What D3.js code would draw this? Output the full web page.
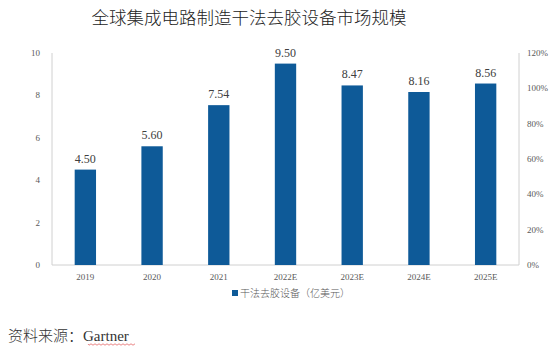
<!DOCTYPE html>
<html><head><meta charset="utf-8">
<script src="https://cdn.jsdelivr.net/npm/d3@7"></script>
<style>body{margin:0;background:#fff;}svg{display:block;}</style>
</head><body>
<script>
const title = "全球集成电路制造干法去胶设备市场规模";
const categories = ["2019","2020","2021","2022E","2023E","2024E","2025E"];
const values = [4.50,5.60,7.54,9.50,8.47,8.16,8.56];
const leftTicks = [0,2,4,6,8,10];
const rightTicks = [0,0.2,0.4,0.6,0.8,1.0,1.2];
const seriesName = "干法去胶设备（亿美元）";
const sourceLabel = "资料来源：";
const sourceName = "Gartner";

const W=554,H=348;
const svg=d3.select("body").append("svg").attr("width",W).attr("height",H);
const pL=52,pR=519,pT=53,pB=265;
const x=d3.scaleBand().domain(categories).range([pL,pR]).paddingInner(0.68).paddingOuter(0.34);
const y=d3.scaleLinear().domain([0,10]).range([pB,pT]);
const y2=d3.scaleLinear().domain([0,1.2]).range([pB,pT]);
const serif="'Liberation Serif','Times New Roman',serif";
const cjk="'Noto Sans CJK SC','Noto Sans',sans-serif";

svg.append("text").attr("x",249).attr("y",24).attr("text-anchor","middle")
  .attr("font-family",cjk).attr("font-weight",300).attr("font-size",17.5).attr("fill","#222").text(title);

const axisColor="#d0d0d0";
svg.append("line").attr("x1",pL).attr("x2",pL).attr("y1",pT).attr("y2",pB).attr("stroke",axisColor);
svg.append("line").attr("x1",pR).attr("x2",pR).attr("y1",pT).attr("y2",pB).attr("stroke",axisColor);
svg.append("line").attr("x1",pL).attr("x2",pR).attr("y1",pB).attr("y2",pB).attr("stroke",axisColor);

svg.append("g").selectAll("text").data(leftTicks).join("text")
  .attr("x",40).attr("y",d=>y(d)+3).attr("text-anchor","end")
  .attr("font-family",serif).attr("font-size",9).attr("fill","#595959").text(d=>d);
svg.append("g").selectAll("text").data(rightTicks).join("text")
  .attr("x",527).attr("y",d=>y2(d)+3).attr("text-anchor","start")
  .attr("font-family",serif).attr("font-size",9).attr("fill","#595959").text(d=>d3.format(".0%")(d));

svg.append("g").selectAll("text").data(categories).join("text")
  .attr("x",d=>x(d)+x.bandwidth()/2).attr("y",280).attr("text-anchor","middle")
  .attr("font-family",serif).attr("font-size",9).attr("fill","#595959").text(d=>d);

const color="#0e5a98";
svg.append("g").selectAll("rect").data(values).join("rect")
  .attr("x",(d,i)=>x(categories[i])).attr("width",x.bandwidth())
  .attr("y",d=>y(d)).attr("height",d=>pB-y(d)).attr("fill",color);
svg.append("g").selectAll("text").data(values).join("text")
  .attr("x",(d,i)=>x(categories[i])+x.bandwidth()/2).attr("y",d=>y(d)-7).attr("text-anchor","middle")
  .attr("font-family",serif).attr("font-size",12).attr("fill","#404040").text(d=>d.toFixed(2));

svg.append("rect").attr("x",232).attr("y",290).attr("width",6).attr("height",6).attr("fill",color);
svg.append("text").attr("x",240).attr("y",297).attr("font-family",cjk).attr("font-weight",300).attr("font-size",10).attr("fill","#595959").text(seriesName);

const src=svg.append("text").attr("x",8).attr("y",341).attr("font-size",15).attr("fill","#333");
src.append("tspan").attr("font-family",cjk).attr("font-weight",300).text(sourceLabel);
src.append("tspan").attr("font-family",serif).text(sourceName);
let p="M88,344";
for(let xx=88;xx<136;xx+=2){p+=` L${xx+1},${(xx/2)%2===0?345.2:343.8}`;}
svg.append("path").attr("d",p).attr("fill","none").attr("stroke","#e05050").attr("stroke-width",0.7);
</script>
</body></html>
